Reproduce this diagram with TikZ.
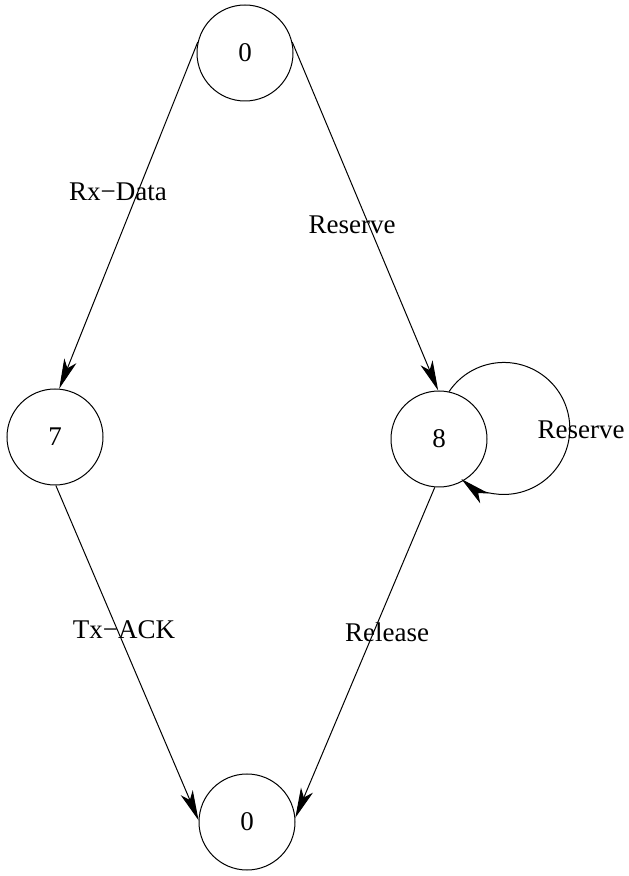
\documentclass[tikz,border=0pt]{standalone}
\usepackage{fontspec}
\setmainfont{Liberation Serif}
\usetikzlibrary{arrows.meta}
\begin{document}
\begin{tikzpicture}[x=1pt,y=1pt,
  state/.style={draw,circle,line width=1pt,minimum size=96pt,inner sep=0pt,font=\fontsize{27}{32}\selectfont},
  lbl/.style={font=\fontsize{27}{32}\selectfont,inner sep=0pt},
  edge/.style={draw,line width=1pt,-{Stealth[length=30pt,width=13pt,inset=8pt]}}]
\useasboundingbox (0,0) rectangle (629,876);
\node[state] (n0) at (245,823) {0};
\node[state] (n7) at (55,439) {7};
\node[state] (n8) at (439,437) {8};
\node[state] (nb) at (247,54) {0};
\path[edge] (n0.167) -- (n7.85);
\path[edge] (n0.13) -- (n8.91);
\path[edge] (n7.-89) -- (nb.178);
\path[edge] (n8.-95) -- (nb.5);
\path[edge] (n8.78) arc[start angle=146,end angle=-130,radius=66pt];
\node[lbl] (l1) at (118,684) {Rx−Data};
\node[lbl] (l2) at (352,651) {Reserve};
\node[lbl] (l3) at (124,246) {Tx−ACK};
\node[lbl] (l4) at (387,244) {Release};
\node[lbl] (l5) at (581,446) {Reserve};
\end{tikzpicture}
\end{document}
